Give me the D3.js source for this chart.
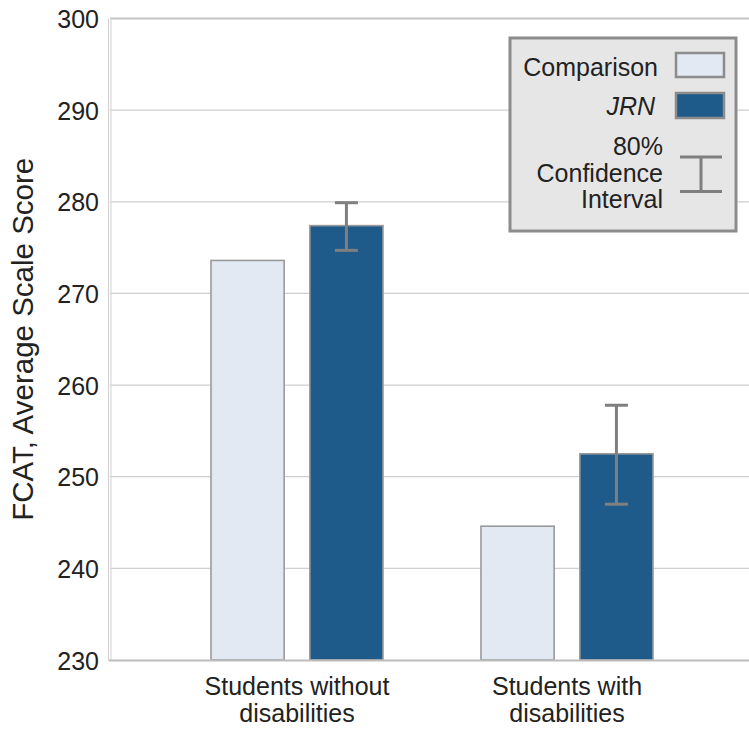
<!DOCTYPE html>
<html>
<head>
<meta charset="utf-8">
<script src="https://cdn.jsdelivr.net/npm/d3@7"></script>
<style>
  html, body { margin: 0; padding: 0; background: #fff; }
  svg { display: block; font-family: "Liberation Sans", Arial, sans-serif; }
</style>
</head>
<body>
<svg id="chart" width="749" height="730"></svg>
<script>
// Categories (two text lines each) and series
const categories = ["Students without disabilities", "Students with disabilities"];
const categoryLines = [["Students without", "disabilities"], ["Students with", "disabilities"]];
const seriesNames = ["Comparison", "JRN"];
const comparisonValues = [273.6, 244.6];
const jrnValues = [277.4, 252.5];
const jrnCILow = [274.7, 247.0];
const jrnCIHigh = [279.9, 257.8];
const yTicks = [230, 240, 250, 260, 270, 280, 290, 300];

const colors = { Comparison: "#e2e9f2", JRN: "#1f5b8a" };

const svg = d3.select("#chart");
const plot = { left: 110, right: 749, top: 18.5, bottom: 660 };

const y = d3.scaleLinear().domain([230, 300]).range([plot.bottom, plot.top]);
const x0 = d3.scaleBand().domain(categories).range([162, 702]).padding(0);
const x1 = d3.scaleBand().domain(seriesNames).range([49, 221]).paddingInner(0.26).paddingOuter(0);

// gridlines
svg.append("g").selectAll("line")
  .data(yTicks.filter(t => t > 230 && t < 300))
  .join("line")
  .attr("x1", plot.left).attr("x2", plot.right)
  .attr("y1", d => y(d)).attr("y2", d => y(d))
  .attr("stroke", "#cfcfcf").attr("stroke-width", 1.2);

// frame: top, left (double), bottom
svg.append("line").attr("x1", plot.left).attr("x2", plot.right)
  .attr("y1", y(300)).attr("y2", y(300)).attr("stroke", "#c4c4c4").attr("stroke-width", 2);
svg.append("line").attr("x1", 108.5).attr("x2", 108.5)
  .attr("y1", y(300)).attr("y2", y(230) + 1).attr("stroke", "#d4d4d4").attr("stroke-width", 1.2);
svg.append("line").attr("x1", 111).attr("x2", 111)
  .attr("y1", y(300)).attr("y2", y(230)).attr("stroke", "#d8d8d8").attr("stroke-width", 1.2);

// y axis tick labels
const yAxis = d3.axisLeft(y).tickValues(yTicks).tickSize(0).tickPadding(0).tickFormat(d3.format("d"));
const gy = svg.append("g").attr("transform", `translate(99,0)`).call(yAxis);
gy.select(".domain").remove();
gy.selectAll("text").attr("font-size", 25).attr("fill", "#222")
  .attr("font-family", "'Liberation Sans', Arial, sans-serif").attr("dy", "0.36em");

// y title
svg.append("text")
  .attr("transform", `translate(33,${(plot.top + plot.bottom) / 2}) rotate(-90)`)
  .attr("text-anchor", "middle")
  .attr("font-size", 29.5).attr("fill", "#222")
  .text("FCAT, Average Scale Score");

// bars
const rows = categories.map((c, i) => ({ cat: c, Comparison: comparisonValues[i], JRN: jrnValues[i], lo: jrnCILow[i], hi: jrnCIHigh[i] }));
const groups = svg.append("g").selectAll("g").data(rows).join("g")
  .attr("transform", d => `translate(${x0(d.cat)},0)`);

groups.selectAll("rect").data(d => seriesNames.map(s => ({ s, v: d[s] }))).join("rect")
  .attr("x", d => x1(d.s)).attr("width", x1.bandwidth())
  .attr("y", d => y(d.v)).attr("height", d => y(230) - y(d.v))
  .attr("fill", d => colors[d.s]).attr("stroke", "#9a9a9a").attr("stroke-width", 1.6);

// confidence intervals on JRN bars
const cx = x1("JRN") + x1.bandwidth() / 2;
groups.append("line").attr("x1", cx).attr("x2", cx)
  .attr("y1", d => y(d.lo)).attr("y2", d => y(d.hi))
  .attr("stroke", "#7f7f7f").attr("stroke-width", 3);
["lo", "hi"].forEach(k => {
  groups.append("line").attr("x1", cx - 11.5).attr("x2", cx + 11.5)
    .attr("y1", d => y(d[k])).attr("y2", d => y(d[k]))
    .attr("stroke", "#7f7f7f").attr("stroke-width", 3);
});

// bottom baseline
svg.append("line").attr("x1", 109).attr("x2", plot.right)
  .attr("y1", y(230) + 0.5).attr("y2", y(230) + 0.5).attr("stroke", "#bdbdbd").attr("stroke-width", 2.2);

// category labels
const xl = svg.append("g");
categories.forEach((c, i) => {
  const t = xl.append("text")
    .attr("x", x0(c) + x0.bandwidth() / 2)
    .attr("text-anchor", "middle").attr("font-size", 25).attr("fill", "#222");
  categoryLines[i].forEach((line, j) => {
    t.append("tspan").attr("x", x0(c) + x0.bandwidth() / 2).attr("y", 695 + j * 27).text(line);
  });
});

// legend
const lg = svg.append("g");
lg.append("rect").attr("x", 510).attr("y", 38).attr("width", 226).attr("height", 193)
  .attr("fill", "#e6e6e6").attr("stroke", "#8c8c8c").attr("stroke-width", 3);
lg.append("rect").attr("x", 676).attr("y", 53).attr("width", 48).attr("height", 24)
  .attr("fill", colors.Comparison).attr("stroke", "#8c8c8c").attr("stroke-width", 2.5);
lg.append("rect").attr("x", 676).attr("y", 93).attr("width", 48).attr("height", 25)
  .attr("fill", colors.JRN).attr("stroke", "#8c8c8c").attr("stroke-width", 2.5);
lg.append("text").attr("x", 658).attr("y", 76).attr("text-anchor", "end")
  .attr("font-size", 25).attr("fill", "#222").text("Comparison");
lg.append("text").attr("x", 655).attr("y", 115).attr("text-anchor", "end")
  .attr("font-size", 25).attr("font-style", "italic").attr("fill", "#222").text("JRN");
["80%", "Confidence", "Interval"].forEach((s, i) => {
  lg.append("text").attr("x", 663).attr("y", 155 + i * 26.5).attr("text-anchor", "end")
    .attr("font-size", 25).attr("fill", "#222").text(s);
});
lg.append("line").attr("x1", 701).attr("x2", 701).attr("y1", 157).attr("y2", 191.5)
  .attr("stroke", "#7f7f7f").attr("stroke-width", 3);
[157, 191.5].forEach(yy => {
  lg.append("line").attr("x1", 680).attr("x2", 722).attr("y1", yy).attr("y2", yy)
    .attr("stroke", "#7f7f7f").attr("stroke-width", 3);
});
</script>
</body>
</html>
